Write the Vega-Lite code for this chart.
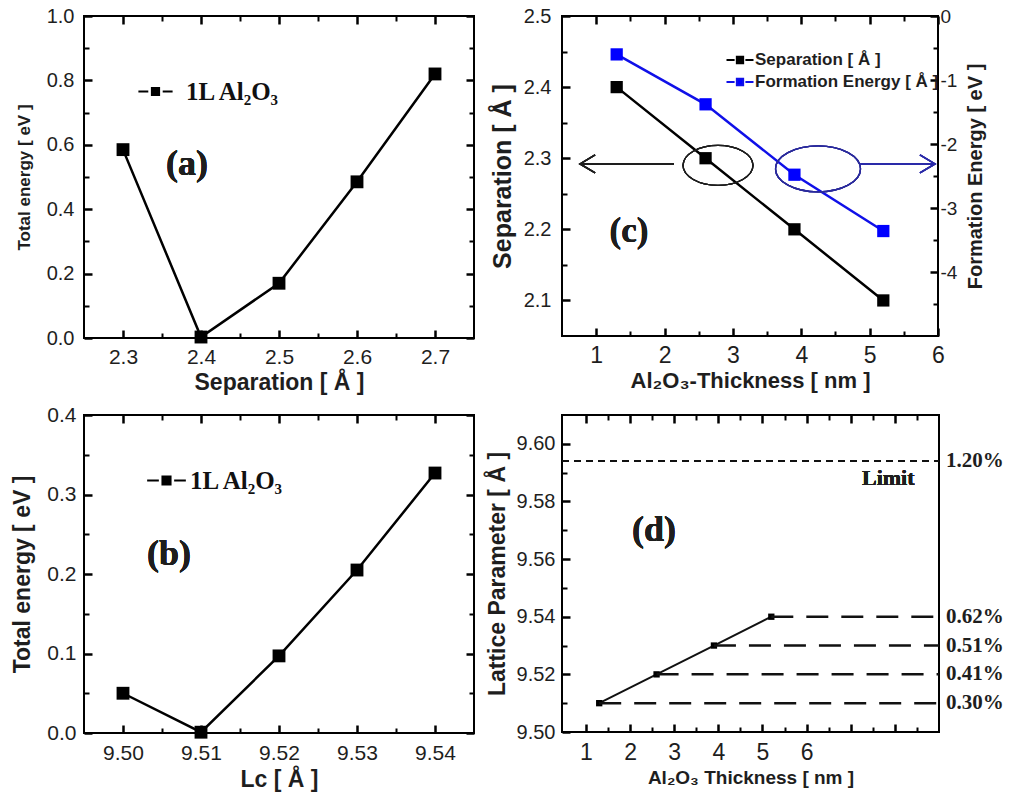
{
  "$schema": "https://vega.github.io/schema/vega-lite/v6.json",
  "background": "white",
  "padding": {"left": 10, "top": 5, "right": 5, "bottom": 0},
  "columns": 2,
  "spacing": {"row": 77, "column": 88},
  "bounds": "flush",
  "resolve": {"scale": {"color": "independent"}, "legend": {"color": "independent"}},
  "config": {
    "font": "Liberation Sans",
    "view": {"stroke": "black", "strokeWidth": 2},
    "axis": {"domain": false, "ticks": false, "grid": true, "gridColor": "black", "gridOpacity": 1, "gridWidth": 2.5, "gridDash": [8, 3000], "zindex": 1, "labelColor": "#1e1e1e", "titleColor": "#1e1e1e", "titleFontWeight": "bold", "labelFont": "Liberation Sans", "titleFont": "Liberation Sans", "labelFlush": false, "labelOverlap": false}
  },
  "concat": [
    {
      "width": 390, "height": 322,
      "data": {"values": [
        {"separation": 2.3, "energy": 0.585},
        {"separation": 2.4, "energy": 0.003},
        {"separation": 2.5, "energy": 0.17},
        {"separation": 2.6, "energy": 0.485},
        {"separation": 2.7, "energy": 0.82}
      ]},
      "resolve": {"axis": {"x": "independent", "y": "independent"}},
      "layer": [
        {"mark": {"type": "line", "strokeWidth": 2.5},
         "encoding": {
           "x": {"field": "separation", "type": "quantitative", "scale": {"domain": [2.25, 2.75], "nice": false, "zero": false},
                 "axis": {"orient": "bottom", "values": [2.3, 2.4, 2.5, 2.6, 2.7], "format": ".1f", "ticks": false, "grid": true, "gridDash": [8, 3000], "gridWidth": 2.5, "gridColor": "black", "labelPadding": 8, "labelFontSize": 21, "title": "Separation [ Å ]", "titleFontSize": 23, "titlePadding": 4}},
           "y": {"field": "energy", "type": "quantitative", "scale": {"domain": [0, 1], "nice": false, "zero": false},
                 "axis": {"orient": "left", "values": [0, 0.2, 0.4, 0.6, 0.8, 1], "format": ".1f", "ticks": false, "grid": true, "gridDash": [8, 3000], "gridWidth": 2.5, "gridColor": "black", "labelPadding": 10, "labelFontSize": 20, "title": "Total energy [ eV ]", "titleFontSize": 17, "titlePadding": 13}},
           "color": {"datum": "1L Al₂O₃", "scale": {"range": ["black"]},
                     "legend": {"orient": "none", "legendX": 59, "legendY": 63, "title": null, "padding": 0,
                                "symbolType": "M -1.9 0 L -0.8 0 M 0.8 0 L 1.9 0 M -0.4 -0.4 L 0.4 -0.4 L 0.4 0.4 L -0.4 0.4 Z",
                                "symbolSize": 324, "symbolStrokeWidth": 2, "labelOffset": 18, "labelLimit": 300,
                                "labelFont": "Liberation Serif", "labelFontWeight": "bold", "labelFontSize": 25, "labelColor": "#111",
                                "encode": {"symbols": {"update": {"fill": {"value": "black"}, "stroke": {"value": "black"}, "strokeWidth": {"value": 2}, "opacity": {"value": 1}}}}}}
         }},
        {"mark": {"type": "square", "size": 165, "color": "black", "opacity": 1},
         "encoding": {
           "x": {"field": "separation", "type": "quantitative", "scale": {"domain": [2.25, 2.75], "nice": false, "zero": false},
                 "axis": {"orient": "top", "values": [2.3, 2.4, 2.5, 2.6, 2.7], "ticks": false, "grid": true, "gridDash": [8, 3000], "gridWidth": 2.5, "gridColor": "black", "labels": false, "title": null}},
           "y": {"field": "energy", "type": "quantitative", "scale": {"domain": [0, 1], "nice": false, "zero": false},
                 "axis": {"orient": "right", "values": [0, 0.2, 0.4, 0.6, 0.8, 1], "ticks": false, "grid": true, "gridDash": [8, 3000], "gridWidth": 2.5, "gridColor": "black", "labels": false, "title": null}}
         }},
        {"mark": {"type": "text", "font": "Liberation Serif", "fontWeight": "bold", "fontSize": 36, "color": "#1e1e1e", "align": "center", "baseline": "middle"},
         "encoding": {
           "x": {"datum": 2.382, "type": "quantitative", "scale": {"domain": [2.25, 2.75], "nice": false, "zero": false},
                 "axis": {"orient": "bottom", "values": [2.35, 2.45, 2.55, 2.65], "ticks": false, "grid": true, "gridDash": [5, 3000], "gridWidth": 2, "gridColor": "black", "labels": false, "title": null}},
           "y": {"datum": 0.54, "type": "quantitative", "scale": {"domain": [0, 1], "nice": false, "zero": false},
                 "axis": {"orient": "left", "values": [0.1, 0.3, 0.5, 0.7, 0.9], "ticks": false, "grid": true, "gridDash": [5, 3000], "gridWidth": 2, "gridColor": "black", "labels": false, "title": null}},
           "text": {"value": "(a)"}
         }},
        {"mark": {"type": "point", "opacity": 0},
         "encoding": {
           "x": {"field": "separation", "type": "quantitative", "scale": {"domain": [2.25, 2.75], "nice": false, "zero": false},
                 "axis": {"orient": "top", "values": [2.35, 2.45, 2.55, 2.65], "ticks": false, "grid": true, "gridDash": [5, 3000], "gridWidth": 2, "gridColor": "black", "labels": false, "title": null}},
           "y": {"field": "energy", "type": "quantitative", "scale": {"domain": [0, 1], "nice": false, "zero": false},
                 "axis": {"orient": "right", "values": [0.1, 0.3, 0.5, 0.7, 0.9], "ticks": false, "grid": true, "gridDash": [5, 3000], "gridWidth": 2, "gridColor": "black", "labels": false, "title": null}}
         }}
      ]
    },
    {
      "width": 376, "height": 320,
      "data": {"values": [
        {"thickness": 1.3, "separation": 2.4, "formation": -0.6},
        {"thickness": 2.6, "separation": 2.3, "formation": -1.38},
        {"thickness": 3.9, "separation": 2.2, "formation": -2.48},
        {"thickness": 5.2, "separation": 2.1, "formation": -3.36}
      ]},
      "resolve": {"scale": {"y": "independent"}, "axis": {"x": "independent", "y": "independent"}},
      "layer": [
        {"mark": {"type": "line", "strokeWidth": 2.5},
         "encoding": {
           "x": {"field": "thickness", "type": "quantitative", "scale": {"domain": [0.5, 6], "nice": false, "zero": false},
                 "axis": {"orient": "bottom", "values": [1, 2, 3, 4, 5, 6], "format": "d", "ticks": false, "grid": true, "gridDash": [8, 3000], "gridWidth": 2.5, "gridColor": "black", "labelPadding": 8, "labelFontSize": 23, "title": "Al₂O₃-Thickness [ nm ]", "titleFontSize": 22, "titlePadding": 3}},
           "y": {"field": "separation", "type": "quantitative", "scale": {"domain": [2.05, 2.5], "nice": false, "zero": false},
                 "axis": {"orient": "left", "values": [2.1, 2.2, 2.3, 2.4, 2.5], "format": ".1f", "ticks": false, "grid": true, "gridDash": [8, 3000], "gridWidth": 2.5, "gridColor": "black", "labelPadding": 11, "labelFontSize": 20, "title": "Separation [ Å ]", "titleFontSize": 25, "titlePadding": 8}},
           "color": {"datum": "Separation [ Å ]", "scale": {"domain": ["Separation [ Å ]", "Formation Energy [ Å ]"], "range": ["black", "#1010e8"]},
                     "legend": {"orient": "none", "legendX": 168, "legendY": 34, "title": null, "padding": 0,
                                "symbolType": "M -1.5 0 L -0.6 0 M 0.6 0 L 1.5 0 M -0.35 -0.35 L 0.35 -0.35 L 0.35 0.35 L -0.35 0.35 Z",
                                "symbolSize": 324, "symbolStrokeWidth": 2, "labelOffset": 5, "rowPadding": 4, "labelLimit": 400,
                                "labelFont": "Liberation Sans", "labelFontWeight": "bold", "labelFontSize": 17, "labelColor": "#1e1e1e",
                                "encode": {"symbols": {"update": {
                                  "fill": [{"test": "datum.value === 'Formation Energy [ Å ]'", "value": "#0000ff"}, {"value": "black"}],
                                  "stroke": [{"test": "datum.value === 'Formation Energy [ Å ]'", "value": "#0000ff"}, {"value": "black"}],
                                  "strokeWidth": {"value": 2}, "opacity": {"value": 1}}}}}}
         }},
        {"mark": {"type": "square", "size": 150, "color": "black", "opacity": 1},
         "encoding": {
           "x": {"field": "thickness", "type": "quantitative", "scale": {"domain": [0.5, 6], "nice": false, "zero": false},
                 "axis": {"orient": "top", "values": [1, 2, 3, 4, 5, 6], "ticks": false, "grid": true, "gridDash": [8, 3000], "gridWidth": 2.5, "gridColor": "black", "labels": false, "title": null}},
           "y": {"field": "separation", "type": "quantitative", "scale": {"domain": [2.05, 2.5], "nice": false, "zero": false},
                 "axis": {"orient": "left", "values": [2.15, 2.25, 2.35, 2.45], "ticks": false, "grid": true, "gridDash": [5, 3000], "gridWidth": 2, "gridColor": "black", "labels": false, "title": null}}
         }},
        {"mark": {"type": "line", "strokeWidth": 2.5},
         "encoding": {
           "x": {"field": "thickness", "type": "quantitative", "scale": {"domain": [0.5, 6], "nice": false, "zero": false},
                 "axis": {"orient": "bottom", "values": [1.5, 2.5, 3.5, 4.5, 5.5], "ticks": false, "grid": true, "gridDash": [5, 3000], "gridWidth": 2, "gridColor": "black", "labels": false, "title": null}},
           "y": {"field": "formation", "type": "quantitative", "scale": {"domain": [-5, 0], "nice": false, "zero": false},
                 "axis": {"orient": "right", "values": [-4, -3, -2, -1, 0], "format": "d", "labelExpr": "replace(datum.label, '−', '-')", "ticks": false, "grid": true, "gridDash": [8, 3000], "gridWidth": 2.5, "gridColor": "black", "labelPadding": 2, "labelFontSize": 19, "title": "Formation Energy [ eV ]", "titleFontSize": 20, "titleAngle": 270, "titleBaseline": "top", "titlePadding": 9}},
           "color": {"datum": "Formation Energy [ Å ]"}
         }},
        {"mark": {"type": "square", "size": 150, "color": "#0000ff", "opacity": 1},
         "encoding": {
           "x": {"field": "thickness", "type": "quantitative", "scale": {"domain": [0.5, 6], "nice": false, "zero": false},
                 "axis": {"orient": "top", "values": [1.5, 2.5, 3.5, 4.5, 5.5], "ticks": false, "grid": true, "gridDash": [5, 3000], "gridWidth": 2, "gridColor": "black", "labels": false, "title": null}},
           "y": {"field": "formation", "type": "quantitative", "scale": {"domain": [-5, 0], "nice": false, "zero": false},
                 "axis": {"orient": "right", "values": [-4.5, -3.5, -2.5, -1.5, -0.5], "ticks": false, "grid": true, "gridDash": [5, 3000], "gridWidth": 2, "gridColor": "black", "labels": false, "title": null}}
         }},
        {"mark": {"type": "text", "font": "Liberation Serif", "fontWeight": "bold", "fontSize": 35, "color": "#1e1e1e", "align": "center", "baseline": "middle"},
         "encoding": {
           "x": {"datum": 1.48, "type": "quantitative", "scale": {"domain": [0.5, 6], "nice": false, "zero": false}, "axis": null},
           "y": {"datum": 2.198, "type": "quantitative", "scale": {"domain": [2.05, 2.5], "nice": false, "zero": false}, "axis": null},
           "text": {"value": "(c)"}
         }},
        {"mark": {"type": "point", "shape": "M -1 0 A 1 0.57 0 1 1 1 0 A 1 0.57 0 1 1 -1 0 Z", "size": 4900, "filled": false, "stroke": "#1e1e1e", "strokeWidth": 1.3, "opacity": 1},
         "encoding": {
           "x": {"datum": 2.782, "type": "quantitative", "scale": {"domain": [0.5, 6], "nice": false, "zero": false}, "axis": null},
           "y": {"datum": 2.29, "type": "quantitative", "scale": {"domain": [2.05, 2.5], "nice": false, "zero": false}, "axis": null}
         }},
        {"mark": {"type": "point", "shape": "M -1 0 A 1 0.54 0 1 1 1 0 A 1 0.54 0 1 1 -1 0 Z", "size": 7225, "filled": false, "stroke": "#2a2a9c", "strokeWidth": 1.3, "opacity": 1},
         "encoding": {
           "x": {"datum": 4.245, "type": "quantitative", "scale": {"domain": [0.5, 6], "nice": false, "zero": false}, "axis": null},
           "y": {"datum": 2.285, "type": "quantitative", "scale": {"domain": [2.05, 2.5], "nice": false, "zero": false}, "axis": null}
         }},
        {"mark": {"type": "rule", "stroke": "#1e1e1e", "strokeWidth": 1.6},
         "encoding": {
           "x": {"datum": 2.138, "type": "quantitative", "scale": {"domain": [0.5, 6], "nice": false, "zero": false}, "axis": null},
           "x2": {"datum": 0.77},
           "y": {"datum": 2.292, "type": "quantitative", "scale": {"domain": [2.05, 2.5], "nice": false, "zero": false}, "axis": null}
         }},
        {"mark": {"type": "point", "shape": "M 1 -0.6 L 0 0 L 1 0.6", "size": 900, "filled": false, "stroke": "#1e1e1e", "strokeWidth": 1.6, "opacity": 1},
         "encoding": {
           "x": {"datum": 0.765, "type": "quantitative", "scale": {"domain": [0.5, 6], "nice": false, "zero": false}, "axis": null},
           "y": {"datum": 2.292, "type": "quantitative", "scale": {"domain": [2.05, 2.5], "nice": false, "zero": false}, "axis": null}
         }},
        {"mark": {"type": "rule", "stroke": "#2a2aa8", "strokeWidth": 1.6},
         "encoding": {
           "x": {"datum": 4.866, "type": "quantitative", "scale": {"domain": [0.5, 6], "nice": false, "zero": false}, "axis": null},
           "x2": {"datum": 5.95},
           "y": {"datum": 2.292, "type": "quantitative", "scale": {"domain": [2.05, 2.5], "nice": false, "zero": false}, "axis": null}
         }},
        {"mark": {"type": "point", "shape": "M -1 -0.6 L 0 0 L -1 0.6", "size": 900, "filled": false, "stroke": "#2a2aa8", "strokeWidth": 1.6, "opacity": 1},
         "encoding": {
           "x": {"datum": 5.955, "type": "quantitative", "scale": {"domain": [0.5, 6], "nice": false, "zero": false}, "axis": null},
           "y": {"datum": 2.292, "type": "quantitative", "scale": {"domain": [2.05, 2.5], "nice": false, "zero": false}, "axis": null}
         }}
      ]
    },
    {
      "width": 390, "height": 318,
      "data": {"values": [
        {"lc": 9.50, "energy": 0.05},
        {"lc": 9.51, "energy": 0.001},
        {"lc": 9.52, "energy": 0.097},
        {"lc": 9.53, "energy": 0.205},
        {"lc": 9.54, "energy": 0.327}
      ]},
      "resolve": {"axis": {"x": "independent", "y": "independent"}},
      "layer": [
        {"mark": {"type": "line", "strokeWidth": 2.5},
         "encoding": {
           "x": {"field": "lc", "type": "quantitative", "scale": {"domain": [9.495, 9.545], "nice": false, "zero": false},
                 "axis": {"orient": "bottom", "values": [9.5, 9.51, 9.52, 9.53, 9.54], "format": ".2f", "ticks": false, "grid": true, "gridDash": [8, 3000], "gridWidth": 2.5, "gridColor": "black", "labelPadding": 9, "labelFontSize": 21, "title": "Lc [ Å ]", "titleFontSize": 23, "titlePadding": 5}},
           "y": {"field": "energy", "type": "quantitative", "scale": {"domain": [0, 0.4], "nice": false, "zero": false},
                 "axis": {"orient": "left", "values": [0, 0.1, 0.2, 0.3, 0.4], "format": ".1f", "ticks": false, "grid": true, "gridDash": [8, 3000], "gridWidth": 2.5, "gridColor": "black", "labelPadding": 8, "labelFontSize": 21, "title": "Total energy [ eV ]", "titleFontSize": 23, "titlePadding": 12}},
           "color": {"datum": "1L Al₂O₃", "scale": {"range": ["black"]},
                     "legend": {"orient": "none", "legendX": 70, "legendY": 53, "title": null, "padding": 0,
                                "symbolType": "M -2.15 0 L -0.85 0 M 0.85 0 L 2.15 0 M -0.45 -0.45 L 0.45 -0.45 L 0.45 0.45 L -0.45 0.45 Z",
                                "symbolSize": 324, "symbolStrokeWidth": 2, "labelOffset": 11, "labelLimit": 300,
                                "labelFont": "Liberation Serif", "labelFontWeight": "bold", "labelFontSize": 25, "labelColor": "#111",
                                "encode": {"symbols": {"update": {"fill": {"value": "black"}, "stroke": {"value": "black"}, "strokeWidth": {"value": 2}, "opacity": {"value": 1}}}}}}
         }},
        {"mark": {"type": "square", "size": 165, "color": "black", "opacity": 1},
         "encoding": {
           "x": {"field": "lc", "type": "quantitative", "scale": {"domain": [9.495, 9.545], "nice": false, "zero": false},
                 "axis": {"orient": "top", "values": [9.5, 9.51, 9.52, 9.53, 9.54], "ticks": false, "grid": true, "gridDash": [8, 3000], "gridWidth": 2.5, "gridColor": "black", "labels": false, "title": null}},
           "y": {"field": "energy", "type": "quantitative", "scale": {"domain": [0, 0.4], "nice": false, "zero": false},
                 "axis": {"orient": "right", "values": [0, 0.1, 0.2, 0.3, 0.4], "ticks": false, "grid": true, "gridDash": [8, 3000], "gridWidth": 2.5, "gridColor": "black", "labels": false, "title": null}}
         }},
        {"mark": {"type": "text", "font": "Liberation Serif", "fontWeight": "bold", "fontSize": 36, "color": "#1e1e1e", "align": "center", "baseline": "middle"},
         "encoding": {
           "x": {"datum": 9.5059, "type": "quantitative", "scale": {"domain": [9.495, 9.545], "nice": false, "zero": false},
                 "axis": {"orient": "bottom", "values": [9.505, 9.515, 9.525, 9.535], "ticks": false, "grid": true, "gridDash": [5, 3000], "gridWidth": 2, "gridColor": "black", "labels": false, "title": null}},
           "y": {"datum": 0.225, "type": "quantitative", "scale": {"domain": [0, 0.4], "nice": false, "zero": false},
                 "axis": {"orient": "left", "values": [0.05, 0.15, 0.25, 0.35], "ticks": false, "grid": true, "gridDash": [5, 3000], "gridWidth": 2, "gridColor": "black", "labels": false, "title": null}},
           "text": {"value": "(b)"}
         }},
        {"mark": {"type": "point", "opacity": 0},
         "encoding": {
           "x": {"field": "lc", "type": "quantitative", "scale": {"domain": [9.495, 9.545], "nice": false, "zero": false},
                 "axis": {"orient": "top", "values": [9.505, 9.515, 9.525, 9.535], "ticks": false, "grid": true, "gridDash": [5, 3000], "gridWidth": 2, "gridColor": "black", "labels": false, "title": null}},
           "y": {"field": "energy", "type": "quantitative", "scale": {"domain": [0, 0.4], "nice": false, "zero": false},
                 "axis": {"orient": "right", "values": [0.05, 0.15, 0.25, 0.35], "ticks": false, "grid": true, "gridDash": [5, 3000], "gridWidth": 2, "gridColor": "black", "labels": false, "title": null}}
         }}
      ]
    },
    {
      "width": 377, "height": 317,
      "data": {"values": [
        {"thickness": 1.3, "lattice": 9.51, "strain": "0.30%"},
        {"thickness": 2.6, "lattice": 9.52, "strain": "0.41%"},
        {"thickness": 3.9, "lattice": 9.53, "strain": "0.51%"},
        {"thickness": 5.2, "lattice": 9.54, "strain": "0.62%"},
        {"thickness": null, "lattice": 9.594, "strain": "1.20%"}
      ]},
      "resolve": {"axis": {"x": "independent", "y": "independent"}},
      "layer": [
        {"transform": [{"filter": "isValid(datum.thickness)"}],
         "mark": {"type": "line", "strokeWidth": 2, "color": "#111"},
         "encoding": {
           "x": {"field": "thickness", "type": "quantitative", "scale": {"domain": [0.457, 9], "nice": false, "zero": false},
                 "axis": {"orient": "bottom", "values": [1, 2, 3, 4, 5, 6, 7, 8], "format": "d", "labelExpr": "datum.value <= 6 ? datum.label : ''", "ticks": false, "grid": true, "gridDash": [8, 3000], "gridWidth": 2.5, "gridColor": "black", "labelPadding": 9, "labelFontSize": 23, "title": "Al₂O₃ Thickness [ nm ]", "titleFontSize": 19, "titlePadding": 4}},
           "y": {"field": "lattice", "type": "quantitative", "scale": {"domain": [9.5, 9.61], "nice": false, "zero": false},
                 "axis": {"orient": "left", "values": [9.5, 9.52, 9.54, 9.56, 9.58, 9.6], "format": ".2f", "ticks": false, "grid": true, "gridDash": [8, 3000], "gridWidth": 2.5, "gridColor": "black", "labelPadding": 7, "labelFontSize": 20, "title": "Lattice Parameter [ Å ]", "titleFontSize": 23, "titlePadding": 7}}
         }},
        {"transform": [{"filter": "isValid(datum.thickness)"}],
         "mark": {"type": "square", "size": 40, "color": "black", "opacity": 1},
         "encoding": {
           "x": {"field": "thickness", "type": "quantitative", "scale": {"domain": [0.457, 9], "nice": false, "zero": false},
                 "axis": {"orient": "top", "values": [1, 2, 3, 4, 5, 6, 7, 8], "ticks": false, "grid": true, "gridDash": [8, 3000], "gridWidth": 2.5, "gridColor": "black", "labels": false, "title": null}},
           "y": {"field": "lattice", "type": "quantitative", "scale": {"domain": [9.5, 9.61], "nice": false, "zero": false}, "axis": null}
         }},
        {"mark": {"type": "text", "font": "Liberation Serif", "fontWeight": "bold", "fontSize": 36, "color": "#1e1e1e", "align": "center", "baseline": "middle"},
         "encoding": {
           "x": {"datum": 2.54, "type": "quantitative", "scale": {"domain": [0.457, 9], "nice": false, "zero": false},
                 "axis": {"orient": "bottom", "values": [1.5, 2.5, 3.5, 4.5, 5.5, 6.5, 7.5, 8.5], "ticks": false, "grid": true, "gridDash": [5, 3000], "gridWidth": 2, "gridColor": "black", "labels": false, "title": null}},
           "y": {"datum": 9.57, "type": "quantitative", "scale": {"domain": [9.5, 9.61], "nice": false, "zero": false},
                 "axis": {"orient": "left", "values": [9.51, 9.53, 9.55, 9.57, 9.59], "ticks": false, "grid": true, "gridDash": [5, 3000], "gridWidth": 2, "gridColor": "black", "labels": false, "title": null}},
           "text": {"value": "(d)"}
         }},
        {"transform": [{"filter": "isValid(datum.thickness)"}],
         "mark": {"type": "rule", "strokeWidth": 2.5, "strokeDash": [22, 13], "color": "#111"},
         "encoding": {
           "x": {"field": "thickness", "type": "quantitative", "scale": {"domain": [0.457, 9], "nice": false, "zero": false},
                 "axis": {"orient": "top", "values": [1.5, 2.5, 3.5, 4.5, 5.5, 6.5, 7.5, 8.5], "ticks": false, "grid": true, "gridDash": [5, 3000], "gridWidth": 2, "gridColor": "black", "labels": false, "title": null}},
           "x2": {"datum": 9},
           "y": {"field": "lattice", "type": "quantitative", "scale": {"domain": [9.5, 9.61], "nice": false, "zero": false}, "axis": null}
         }},
        {"transform": [{"filter": "!isValid(datum.thickness)"}],
         "mark": {"type": "rule", "strokeWidth": 2, "strokeDash": [7, 5], "color": "#111"},
         "encoding": {
           "x": {"datum": 0.457, "type": "quantitative", "scale": {"domain": [0.457, 9], "nice": false, "zero": false}, "axis": null},
           "x2": {"datum": 9},
           "y": {"field": "lattice", "type": "quantitative", "scale": {"domain": [9.5, 9.61], "nice": false, "zero": false}, "axis": null}
         }},
        {"mark": {"type": "text", "font": "Liberation Serif", "fontWeight": "bold", "fontSize": 21, "color": "#1e1e1e", "align": "left", "baseline": "middle", "dx": 7},
         "encoding": {
           "x": {"datum": 9, "type": "quantitative", "scale": {"domain": [0.457, 9], "nice": false, "zero": false}, "axis": null},
           "y": {"field": "lattice", "type": "quantitative", "scale": {"domain": [9.5, 9.61], "nice": false, "zero": false}, "axis": null},
           "text": {"field": "strain"}
         }},
        {"mark": {"type": "text", "font": "Liberation Serif", "fontWeight": "bold", "fontSize": 22, "color": "#1e1e1e", "align": "center", "baseline": "middle"},
         "encoding": {
           "x": {"datum": 7.85, "type": "quantitative", "scale": {"domain": [0.457, 9], "nice": false, "zero": false}, "axis": null},
           "y": {"datum": 9.588, "type": "quantitative", "scale": {"domain": [9.5, 9.61], "nice": false, "zero": false}, "axis": null},
           "text": {"value": "Limit"}
         }}
      ]
    }
  ]
}
